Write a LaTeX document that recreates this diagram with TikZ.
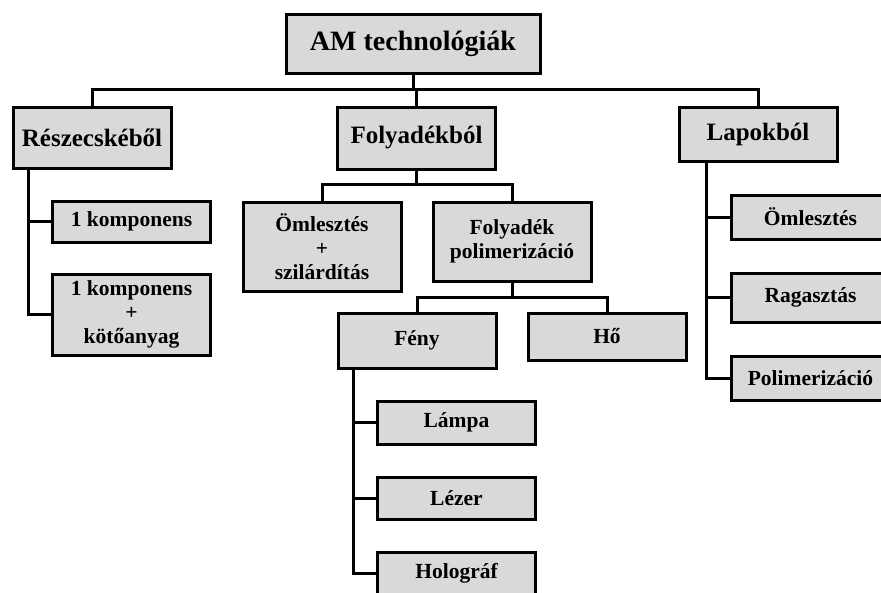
\documentclass[tikz,border=0pt]{standalone}
\usepackage{fontspec}
\setmainfont{Liberation Serif}
\usepackage{tikz}
\definecolor{boxgray}{RGB}{217,217,217}

\begin{document}
\begin{tikzpicture}[x=1pt,y=-1pt]
\tikzstyle{every node}+=[inner sep=0pt]
\tikzstyle{box}=[draw=black, fill=boxgray, line width=3pt, align=center, font=\bfseries\fontsize{21.5}{24}\selectfont, minimum width=158pt]
\tikzstyle{link}=[line width=3pt, line join=miter]
\useasboundingbox (0,0) rectangle (881,592);
\clip (0,0) rectangle (881,592);
% top levels
\node [box, minimum width=254pt, minimum height=59pt, font=\bfseries\fontsize{28}{32}\selectfont] (am) at (413,43.5) {AM technológiák};
\node [box, minimum height=61pt, font=\bfseries\fontsize{25}{28}\selectfont] (resz) at (92,137.5) {Részecskéből};
\node [box, minimum height=62pt, font=\bfseries\fontsize{25}{28}\selectfont] (foly) at (416.5,138) {Folyadékból};
\node [box, minimum height=54pt, font=\bfseries\fontsize{25}{28}\selectfont] (lap) at (758,134) {Lapokból};
% left column
\node [box, minimum height=41pt] (komp1) at (131.5,221.5) {1 komponens};
\node [box, minimum height=81pt] (komp2) at (131.5,314.5) {1 komponens\\+\\kötőanyag};
% middle
\node [box, minimum height=89pt] (omle) at (322,246.5) {Ömlesztés\\+\\szilárdítás};
\node [box, minimum height=79pt] (fpol) at (512,241.5) {Folyadék\\polimerizáció};
\node [box, minimum height=55pt] (feny) at (417,340.5) {Fény};
\node [box, minimum height=47pt] (ho) at (607,336.5) {Hő};
\node [box, minimum height=43pt] (lampa) at (456.5,422.5) {Lámpa};
\node [box, minimum height=42pt] (lezer) at (456.5,498) {Lézer};
\node [box, minimum height=43pt] (holo) at (456.5,573.5) {Holográf};
% right column
\node [box, minimum height=44pt] (lomle) at (810.5,217) {Ömlesztés};
\node [box, minimum height=49pt] (ragasz) at (810.5,297.5) {Ragasztás};
\node [box, minimum height=44pt] (lpoli) at (810.5,378) {Polimerizáció};
% buses
\coordinate (bus1) at (413,89);
\coordinate (bus2) at (416.5,184);
\coordinate (bus3) at (512,297);
\draw [link] (am.south) -- (bus1);
\draw [link] (resz.north) |- (bus1) -| (lap.north);
\draw [link] (foly.north) -- (foly.north |- bus1);
\draw [link] (foly.south) -- (bus2);
\draw [link] (omle.north) |- (bus2) -| (fpol.north);
\draw [link] (fpol.south) -- (bus3);
\draw [link] (feny.north) |- (bus3) -| (ho.north);
% trunks
\draw [link] ([xshift=17pt]resz.south west) |- (komp2.west);
\draw [link] (komp1.west) -- ++(-22,0);
\draw [link] ([xshift=29pt]lap.south west) |- (lpoli.west);
\draw [link] (lomle.west) -- ++(-23,0);
\draw [link] (ragasz.west) -- ++(-23,0);
\draw [link] ([xshift=17pt]feny.south west) |- (holo.west);
\draw [link] (lampa.west) -- ++(-22,0);
\draw [link] (lezer.west) -- ++(-22,0);
\end{tikzpicture}
\end{document}
